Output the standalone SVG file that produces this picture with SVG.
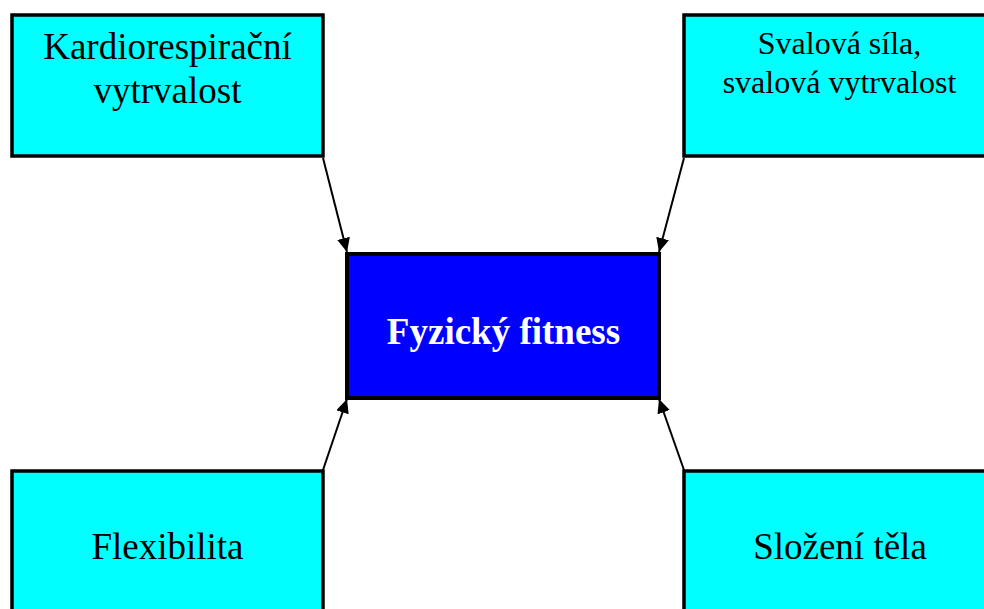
<svg xmlns="http://www.w3.org/2000/svg" width="984" height="609" viewBox="0 0 984 609">
  <style>
    .box { fill: #00FFFF; stroke: #000; stroke-width: 3.5; }
    .core { fill: #0000FF; stroke: #000; stroke-width: 4; }
    .lbl { font-family: "Liberation Serif", "Times New Roman", serif; fill: #000; text-anchor: middle; }
    .big { font-size: 37px; }
    .small { font-size: 32px; }
    .core-lbl { font-family: "Liberation Serif", "Times New Roman", serif; font-size: 37px; font-weight: bold; fill: #fff; text-anchor: middle; }
    .link { stroke: #000; stroke-width: 2; fill: none; marker-end: url(#head); }
  </style>
  <defs>
    <marker id="head" viewBox="0 0 14 13" refX="14" refY="6.5" markerWidth="14" markerHeight="13" markerUnits="userSpaceOnUse" orient="auto">
      <path d="M0,0 L14,6.5 L0,13 Z" fill="#000"/>
    </marker>
  </defs>
  <rect width="984" height="609" fill="#fff"/>

  <g id="connectors">
    <line class="link" x1="323" y1="158" x2="347" y2="252"/>
    <line class="link" x1="684" y1="158" x2="659" y2="252"/>
    <line class="link" x1="323" y1="470" x2="347" y2="399"/>
    <line class="link" x1="684" y1="470" x2="659" y2="399"/>
  </g>

  <g id="kardio">
    <rect class="box" x="12" y="15" width="311" height="141"/>
    <text class="lbl big" x="167.5" y="59">Kardiorespirační</text>
    <text class="lbl big" x="167.5" y="103">vytrvalost</text>
  </g>

  <g id="svalova">
    <rect class="box" x="684" y="15" width="311" height="141"/>
    <text class="lbl small" x="839.5" y="54">Svalová síla,</text>
    <text class="lbl small" x="839.5" y="93">svalová vytrvalost</text>
  </g>

  <g id="fitness">
    <rect class="core" x="347" y="254" width="312" height="144"/>
    <text class="core-lbl" x="503.5" y="344">Fyzický fitness</text>
  </g>

  <g id="flexibilita">
    <rect class="box" x="12" y="471" width="311" height="150"/>
    <text class="lbl big" x="167.5" y="559">Flexibilita</text>
  </g>

  <g id="slozeni">
    <rect class="box" x="684" y="471" width="311" height="150"/>
    <text class="lbl big" x="840" y="559">Složení těla</text>
  </g>
</svg>
